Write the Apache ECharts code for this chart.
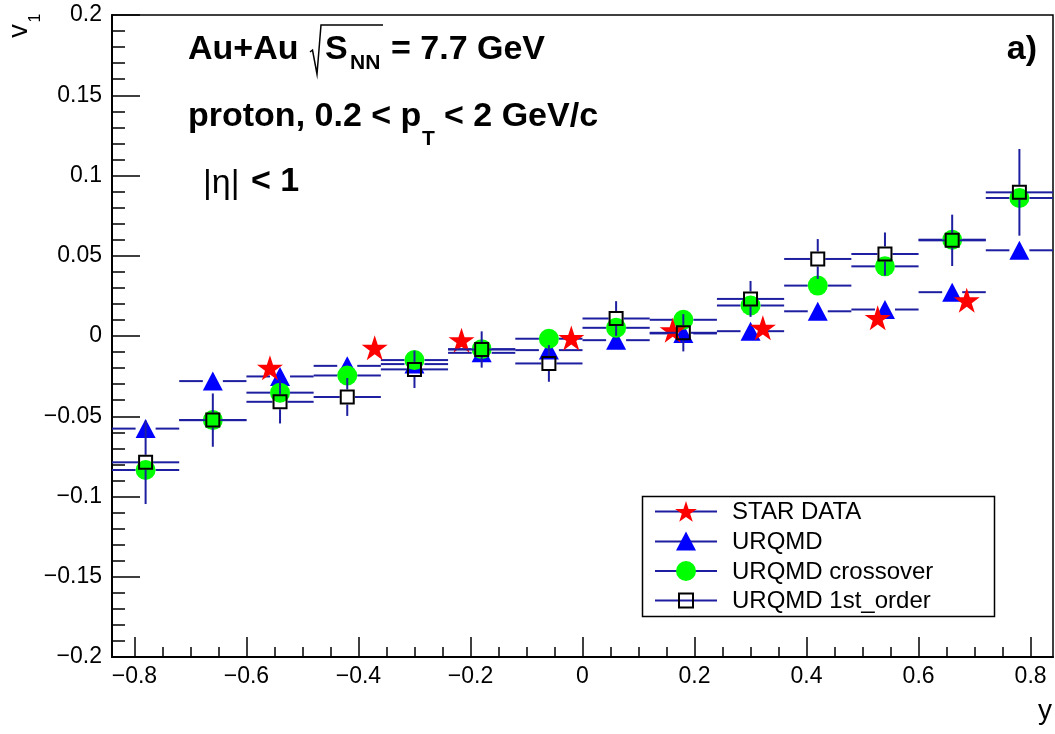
<!DOCTYPE html>
<html>
<head>
<meta charset="utf-8">
<script src="https://cdn.jsdelivr.net/npm/echarts@6/dist/echarts.min.js"></script>
<style>
html,body{margin:0;padding:0;background:#fff;}
#chart{width:1055px;height:734px;}
</style>
</head>
<body>
<div id="chart"></div>
<script>
// ---------------- data ----------------
const yBins = [-0.78, -0.66, -0.54, -0.42, -0.30, -0.18, -0.06, 0.06, 0.18, 0.30, 0.42, 0.54, 0.66, 0.78];
const binHalfWidth = [0.06, 0.06, 0.06, 0.06, 0.06, 0.06, 0.06, 0.06, 0.06, 0.06, 0.06, 0.06, 0.06, 0.06];

const urqmdV1  = [-0.0577, -0.0281, -0.0252, -0.0186, -0.0175, -0.0105, -0.0088, -0.0026, 0.0016, 0.0030, 0.0154, 0.0165, 0.0273, 0.0534];
const urqmdErr = [0, 0, 0, 0, 0, 0, 0, 0, 0, 0, 0, 0, 0, 0];

const crossV1  = [-0.0835, -0.0524, -0.0353, -0.0246, -0.0150, -0.0082, -0.0017, 0.0051, 0.0101, 0.0190, 0.0314, 0.0434, 0.0600, 0.0860];
const crossErr = [0, 0, 0, 0, 0, 0, 0, 0, 0, 0, 0, 0, 0, 0];

const firstV1  = [-0.0787, -0.0524, -0.0410, -0.0380, -0.0208, -0.0084, -0.0171, 0.0109, 0.0020, 0.0231, 0.0480, 0.0511, 0.0596, 0.0895];
const firstErr = [0.026, 0.0166, 0.0135, 0.0118, 0.0116, 0.0113, 0.0114, 0.0108, 0.0116, 0.0112, 0.0124, 0.0134, 0.0160, 0.0270];

const starY  = [-0.558, -0.371, -0.216, -0.020, 0.161, 0.322, 0.527, 0.686];
const starV1 = [-0.0198, -0.0073, -0.0026, -0.0012, 0.0036, 0.0051, 0.0113, 0.0223];

const xTickValues = [-0.8, -0.6, -0.4, -0.2, 0, 0.2, 0.4, 0.6, 0.8];
const xTickLabels = ['\u22120.8', '\u22120.6', '\u22120.4', '\u22120.2', '0', '0.2', '0.4', '0.6', '0.8'];
const yTickLabels = {'0.2':'0.2','0.15':'0.15','0.1':'0.1','0.05':'0.05','0':'0','-0.05':'\u22120.05','-0.1':'\u22120.1','-0.15':'\u22120.15','-0.2':'\u22120.2'};

const legendNames = ['STAR DATA', 'URQMD', 'URQMD crossover', 'URQMD 1st_order'];

// ---------------- style ----------------
const FONT = '"Liberation Sans", Arial, Helvetica, sans-serif';
const ERR_COLOR = '#1e1ea0';
const X_MIN = -0.84, X_MAX = 0.84;
const TICK_FONT = 23;

// minor x ticks every 0.05 (axis decoration)
const xMinorTicks = [];
for (let k = -16; k <= 16; k++) {
  if (k % 4 !== 0) xMinorTicks.push(k * 0.05);
}

function starPath() {
  const R = 50, r = R * 0.382;
  let d = '';
  for (let i = 0; i < 10; i++) {
    const a = -Math.PI / 2 + i * Math.PI / 5;
    const rr = i % 2 === 0 ? R : r;
    const px = (R + rr * Math.cos(a)).toFixed(2);
    const py = (R + rr * Math.sin(a)).toFixed(2);
    d += (i === 0 ? 'M' : 'L') + px + ' ' + py + ' ';
  }
  return 'path://' + d + 'Z';
}
const STAR = starPath();

function errSeries(xs, ys, exs, eys, gap, z) {
  return {
    type: 'custom',
    z: z,
    silent: true,
    animation: false,
    clip: false,
    encode: { x: 0, y: 1 },
    data: xs.map((x, i) => [x, ys[i], exs[i], eys[i]]),
    renderItem: function (params, api) {
      const x = api.value(0), y = api.value(1), ex = api.value(2), ey = api.value(3);
      const c = api.coord([x, y]);
      const l = api.coord([x - ex, y]);
      const r = api.coord([x + ex, y]);
      const t = api.coord([x, y + ey]);
      const b = api.coord([x, y - ey]);
      const st = { stroke: ERR_COLOR, lineWidth: 2 };
      const ch = [];
      if (c[0] - gap > l[0]) ch.push({ type: 'line', shape: { x1: l[0], y1: c[1], x2: c[0] - gap, y2: c[1] }, style: st });
      if (r[0] > c[0] + gap) ch.push({ type: 'line', shape: { x1: c[0] + gap, y1: c[1], x2: r[0], y2: c[1] }, style: st });
      if (t[1] < c[1] - gap) ch.push({ type: 'line', shape: { x1: c[0], y1: t[1], x2: c[0], y2: c[1] - gap }, style: st });
      if (b[1] > c[1] + gap) ch.push({ type: 'line', shape: { x1: c[0], y1: c[1] + gap, x2: c[0], y2: b[1] }, style: st });
      return { type: 'group', children: ch };
    }
  };
}

function markerSeries(name, xs, ys, symbol, size, itemStyle, z) {
  return {
    name: name,
    type: 'scatter',
    z: z,
    silent: true,
    animation: false,
    symbol: symbol,
    symbolSize: size,
    itemStyle: Object.assign({ opacity: 1 }, itemStyle),
    emphasis: { disabled: true },
    data: xs.map((x, i) => [x, ys[i]])
  };
}

function txt(text, x, y, size, weight, align, extra) {
  const el = {
    type: 'text', x: x, y: y, z: 100,
    style: {
      text: text, fill: '#000',
      font: (weight || 'normal') + ' ' + size + 'px ' + FONT,
      align: align || 'left', verticalAlign: 'middle',
      textAlign: align || 'left', textVerticalAlign: 'middle'
    }
  };
  if (extra) Object.assign(el, extra);
  return el;
}

// ---------------- legend (drawn) ----------------
const LEG = { x: 642.5, y: 496.5, w: 352, h: 120, lineX1: 655, lineX2: 717, mx: 686, tx: 732, rows: [511.5, 541.5, 571, 600.5] };
function legendGraphics() {
  const g = [];
  g.push({ type: 'rect', z: 90, shape: { x: LEG.x, y: LEG.y, width: LEG.w, height: LEG.h }, style: { fill: '#fff', stroke: '#000', lineWidth: 1.5 } });
  LEG.rows.forEach((ry, i) => {
    g.push({ type: 'line', z: 91, shape: { x1: LEG.lineX1, y1: ry, x2: LEG.lineX2, y2: ry }, style: { stroke: ERR_COLOR, lineWidth: 2 } });
    g.push(txt(legendNames[i], LEG.tx, ry + 1, 24, 'normal', 'left'));
  });
  // star
  const R = 11.5, r = R * 0.382, pts = [];
  for (let i = 0; i < 10; i++) {
    const a = -Math.PI / 2 + i * Math.PI / 5, rr = i % 2 === 0 ? R : r;
    pts.push([LEG.mx + rr * Math.cos(a), LEG.rows[0] + 1 + rr * Math.sin(a)]);
  }
  g.push({ type: 'polygon', z: 92, shape: { points: pts }, style: { fill: '#ff0000' } });
  // triangle
  const ty = LEG.rows[1];
  g.push({ type: 'polygon', z: 92, shape: { points: [[LEG.mx, ty - 10], [LEG.mx + 10, ty + 9], [LEG.mx - 10, ty + 9]] }, style: { fill: '#0000ff' } });
  // circle
  g.push({ type: 'circle', z: 92, shape: { cx: LEG.mx, cy: LEG.rows[2], r: 10 }, style: { fill: '#00ff00' } });
  // open square
  g.push({ type: 'rect', z: 92, shape: { x: LEG.mx - 7, y: LEG.rows[3] - 7, width: 14, height: 14 }, style: { fill: 'rgba(0,0,0,0)', stroke: '#000', lineWidth: 2 } });
  return g;
}

// ---------------- annotations ----------------
const annotations = [
  txt('Au+Au', 188, 50, 34, 'bold', 'left'),
  { type: 'polyline', z: 100, shape: { points: [[310, 52], [312.5, 50], [317, 74], [321, 25], [383, 25]] }, style: { stroke: '#000', lineWidth: 1.5, fill: null } },
  txt('S', 325, 50, 34, 'bold', 'left'),
  txt('NN', 350, 63, 21, 'bold', 'left'),
  txt('= 7.7 GeV', 391, 50, 34, 'bold', 'left'),
  txt('proton, 0.2 < p', 188, 117, 34, 'bold', 'left'),
  txt('T', 422, 139, 21, 'bold', 'left'),
  txt('< 2 GeV/c', 444, 117, 34, 'bold', 'left'),
  txt('|\u03b7|', 203, 184, 34, 'normal', 'left'),
  txt('< 1', 251, 182, 34, 'bold', 'left'),
  txt('a)', 1037, 50, 34, 'bold', 'right'),
  txt('v', 20, 31, 27, 'normal', 'center', { rotation: Math.PI / 2 }),
  txt('1', 36, 18, 16, 'normal', 'center', { rotation: Math.PI / 2 }),
  txt('y', 1052, 711, 28, 'normal', 'right')
];

// ---------------- chart ----------------
const chart = echarts.init(document.getElementById('chart'), null, { renderer: 'canvas' });
chart.setOption({
  animation: false,
  backgroundColor: '#fff',
  textStyle: { fontFamily: FONT },
  grid: { left: 112, right: 2, top: 15, bottom: 77, show: true, borderColor: '#000', borderWidth: 1.5, backgroundColor: 'rgba(0,0,0,0)', containLabel: false },
  xAxis: [
    {
      type: 'value', min: X_MIN, max: X_MAX, position: 'bottom',
      axisLine: { show: true, onZero: false, lineStyle: { color: '#000', width: 2 } },
      axisTick: { show: true, inside: true, length: 20, customValues: xTickValues, lineStyle: { color: '#000', width: 1.5 } },
      axisLabel: {
        show: true, customValues: xTickValues, margin: 8, color: '#000', fontSize: TICK_FONT, fontFamily: FONT,
        formatter: function (v) { const i = xTickValues.findIndex(t => Math.abs(t - v) < 1e-9); return i >= 0 ? xTickLabels[i] : ''; }
      },
      splitLine: { show: false }
    },
    {
      type: 'value', min: X_MIN, max: X_MAX, position: 'bottom', offset: 0,
      axisLine: { show: false, onZero: false },
      axisTick: { show: true, inside: true, length: 10, customValues: xMinorTicks, lineStyle: { color: '#000', width: 1.5 } },
      axisLabel: { show: false },
      splitLine: { show: false }
    }
  ],
  yAxis: {
    type: 'value', min: -0.2, max: 0.2, interval: 0.05,
    axisLine: { show: true, onZero: false, lineStyle: { color: '#000', width: 2 } },
    axisTick: { show: true, inside: true, length: 28, lineStyle: { color: '#000', width: 1.5 } },
    minorTick: { show: true, splitNumber: 5, length: 13, lineStyle: { color: '#000', width: 1.5 } },
    axisLabel: {
      show: true, margin: 10, color: '#000', fontSize: TICK_FONT, fontFamily: FONT, showMinLabel: true, showMaxLabel: true,
      formatter: function (v) { const k = String(Math.round(v * 100) / 100); return yTickLabels[k] !== undefined ? yTickLabels[k] : k; }
    },
    splitLine: { show: false }, minorSplitLine: { show: false }
  },
  series: [
    errSeries(yBins, urqmdV1, binHalfWidth, urqmdErr, 10, 2),
    markerSeries('URQMD', yBins, urqmdV1, 'triangle', [20, 19], { color: '#0000ff' }, 3),
    errSeries(yBins, crossV1, binHalfWidth, crossErr, 10, 4),
    markerSeries('URQMD crossover', yBins, crossV1, 'circle', 20, { color: '#00ff00' }, 5),
    markerSeries('STAR DATA', starY, starV1, STAR, [26, 25], { color: '#ff0000' }, 6),
    errSeries(yBins, firstV1, binHalfWidth, firstErr, 7.5, 7),
    markerSeries('URQMD 1st_order', yBins, firstV1, 'rect', 13, { color: 'rgba(0,0,0,0)', borderColor: '#000', borderWidth: 2 }, 8)
  ],
  graphic: { elements: annotations.concat(legendGraphics()) }
});
</script>
</body>
</html>
